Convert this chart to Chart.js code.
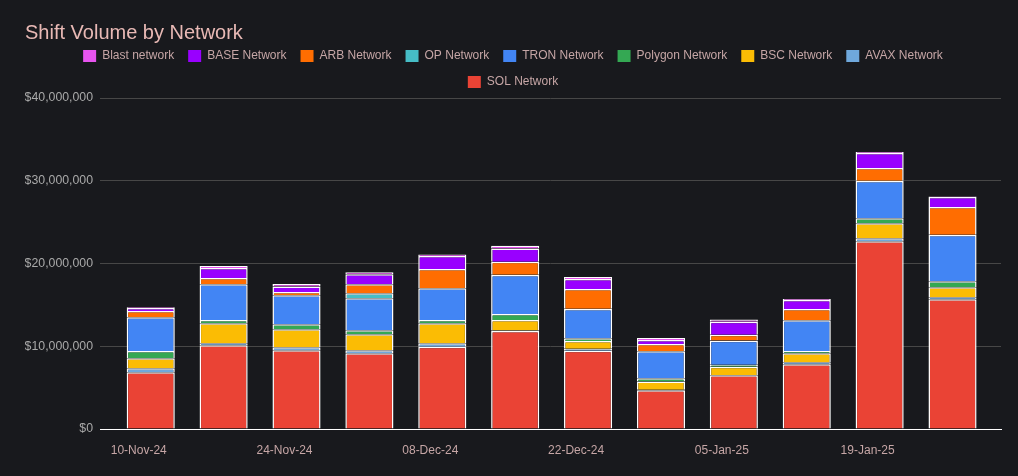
<!DOCTYPE html>
<html>
<head>
<meta charset="utf-8">
<script src="https://cdn.jsdelivr.net/npm/chart.js@4"></script>
<style>
  html, body { margin: 0; padding: 0; background: #18191d; }
  #wrap { width: 1018px; height: 476px; }
</style>
</head>
<body>
<div id="wrap"><canvas id="shiftChart"></canvas></div>
<script>
// weekly buckets (every other one is labelled on the axis)
const weeks = ['10-Nov-24', '17-Nov-24', '24-Nov-24', '01-Dec-24', '08-Dec-24', '15-Dec-24',
  '22-Dec-24', '29-Dec-24', '05-Jan-25', '12-Jan-25', '19-Jan-25', '26-Jan-25'];

// volumes in millions of USD
const sol     = [6.85, 10.11, 9.51, 9.15, 9.95, 11.84, 9.46, 4.68, 6.49, 7.82, 22.68, 15.67];
const avax    = [0.48, 0.25, 0.36, 0.36, 0.41, 0.05, 0.24, 0.05, 0.05, 0.24, 0.37, 0.25];
const bsc     = [1.21, 2.41, 2.18, 1.93, 2.41, 1.29, 0.93, 1.00, 0.97, 1.09, 1.81, 1.20];
const polygon = [0.89, 0.40, 0.60, 0.49, 0.40, 0.73, 0.33, 0.41, 0.24, 0.28, 0.60, 0.73];
const tron    = [4.07, 4.32, 3.51, 3.86, 3.83, 4.71, 3.54, 3.26, 2.90, 3.71, 4.51, 5.59];
const op      = [0.03, 0.03, 0.03, 0.61, 0.03, 0.03, 0.03, 0.03, 0.03, 0.03, 0.03, 0.03];
const arb     = [0.72, 0.72, 0.36, 1.09, 2.30, 1.57, 2.38, 0.85, 0.72, 1.33, 1.53, 3.35];
const base    = [0.37, 1.21, 0.68, 1.20, 1.57, 1.58, 1.21, 0.48, 1.57, 1.08, 1.82, 1.21];
const blast   = [0.10, 0.24, 0.29, 0.25, 0.19, 0.36, 0.24, 0.24, 0.25, 0.12, 0.12, 0.07];

const yTicks = [0, 10000000, 20000000, 30000000, 40000000];

// bottom of the stack first
const series = [
  { name: 'SOL Network',     values: sol,     color: '#ea4335' },
  { name: 'AVAX Network',    values: avax,    color: '#6fa8dc' },
  { name: 'BSC Network',     values: bsc,     color: '#fbbc04' },
  { name: 'Polygon Network', values: polygon, color: '#34a853' },
  { name: 'TRON Network',    values: tron,    color: '#4285f4' },
  { name: 'OP Network',      values: op,      color: '#46bdc6' },
  { name: 'ARB Network',     values: arb,     color: '#ff6d01' },
  { name: 'BASE Network',    values: base,    color: '#9900ff' },
  { name: 'Blast network',   values: blast,   color: '#e754ef' }
];

const font = 'Liberation Sans, Arial, sans-serif';

new Chart(document.getElementById('shiftChart'), {
  type: 'bar',
  data: {
    datasets: series.map(s => ({
      label: s.name,
      data: s.values.map((v, i) => ({ x: i, y: v * 1000000 })),
      backgroundColor: s.color,
      borderColor: '#ffffff',
      borderWidth: 1.5,
      barPercentage: 0.66,
      categoryPercentage: 1
    }))
  },
  options: {
    responsive: true,
    maintainAspectRatio: false,
    animation: false,
    layout: { padding: { left: 25, right: 17, top: 0, bottom: 0 } },
    plugins: {
      title: {
        display: true,
        text: 'Shift Volume by Network',
        align: 'start',
        color: '#e8b9b5',
        font: { family: font, size: 20, weight: 'normal' },
        padding: { top: 21, bottom: -9 }
      },
      legend: {
        reverse: true,
        labels: {
          color: '#c6a6a6',
          font: { family: font, size: 12 },
          boxWidth: 13,
          boxHeight: 12,
          padding: 14,
          // plain swatches, no white outline
          generateLabels: chart => Chart.defaults.plugins.legend.labels.generateLabels(chart)
            .map(item => ({ ...item, strokeStyle: item.fillStyle, lineWidth: 0 }))
        }
      },
      tooltip: { enabled: false }
    },
    scales: {
      x: {
        type: 'linear',
        stacked: true,
        offset: false,
        min: -0.696,
        max: 11.665,
        grid: { display: false },
        border: { color: '#ffffff', width: 1 },
        afterFit: scale => { scale.height = 47; },
        ticks: {
          stepSize: 2,
          includeBounds: false,
          autoSkip: false,
          maxRotation: 0,
          padding: 6,
          labelOffset: -12,
          color: '#c6a6a6',
          font: { family: font, size: 12 },
          callback: v => weeks[v] || ''
        }
      },
      y: {
        stacked: true,
        min: 0,
        max: 40000000,
        afterFit: scale => { scale.width = 75; },
        afterBuildTicks: scale => { scale.ticks = yTicks.map(v => ({ value: v })); },
        grid: { color: '#474747', drawTicks: false },
        border: { display: false },
        ticks: {
          padding: 7,
          color: '#a9a9a9',
          font: { family: font, size: 12.3 },
          callback: v => '$' + v.toLocaleString('en-US')
        }
      }
    }
  }
});
</script>
</body>
</html>
